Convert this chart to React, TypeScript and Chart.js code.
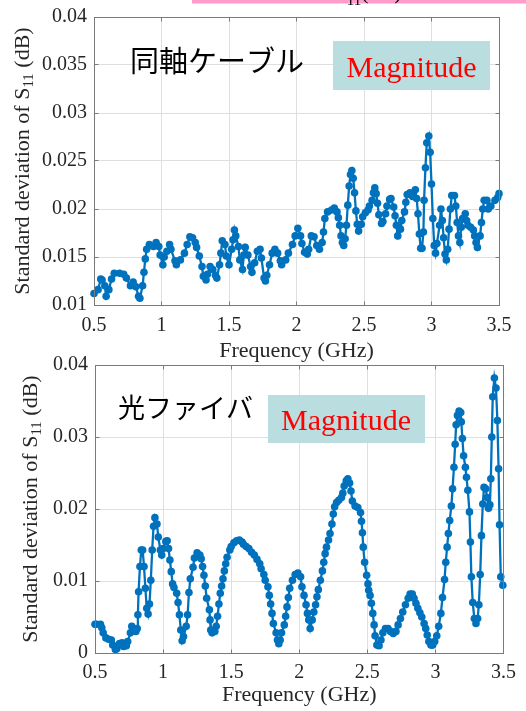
import React, { useEffect, useRef } from "react";
import { Chart, registerables } from "chart.js";

Chart.register(...registerables);

// ---------- data ----------
const xTickValues = [0.5, 1, 1.5, 2, 2.5, 3, 3.5];
const xTickLabels = ["0.5", "1", "1.5", "2", "2.5", "3", "3.5"];

const coaxYTickValues = [0.01, 0.015, 0.02, 0.025, 0.03, 0.035, 0.04];
const coaxYTickLabels = ["0.01", "0.015", "0.02", "0.025", "0.03", "0.035", "0.04"];

const fiberYTickValues = [0, 0.01, 0.02, 0.03, 0.04];
const fiberYTickLabels = ["0", "0.01", "0.02", "0.03", "0.04"];

const coaxFreq = [
  0.5, 0.53, 0.55, 0.56, 0.58, 0.59, 0.61, 0.63, 0.65, 0.69, 0.72, 0.74, 0.77, 0.79, 0.81, 0.83, 0.84, 0.86, 0.87, 0.88,
  0.89, 0.91, 0.94, 0.96, 0.98, 0.99, 1.01, 1.02, 1.04, 1.06, 1.07, 1.1, 1.11, 1.14, 1.17, 1.19, 1.21, 1.23, 1.25, 1.26,
  1.28, 1.3, 1.31, 1.33, 1.34, 1.36, 1.38, 1.4, 1.41, 1.43, 1.44, 1.45, 1.47, 1.48, 1.5, 1.52, 1.53, 1.54, 1.55, 1.57,
  1.58, 1.6, 1.61, 1.62, 1.64, 1.66, 1.67, 1.69, 1.71, 1.73, 1.74, 1.76, 1.77, 1.78, 1.8, 1.82, 1.84, 1.86, 1.88, 1.89,
  1.92, 1.94, 1.97, 1.99, 2.01, 2.03, 2.04, 2.06, 2.08, 2.09, 2.11, 2.13, 2.15, 2.17, 2.19, 2.2, 2.21, 2.23, 2.26, 2.28,
  2.3, 2.31, 2.32, 2.33, 2.34, 2.35, 2.36, 2.37, 2.38, 2.39, 2.4, 2.41, 2.42, 2.43, 2.44, 2.45, 2.46, 2.48, 2.49, 2.51,
  2.53, 2.54, 2.56, 2.57, 2.58, 2.59, 2.6, 2.61, 2.63, 2.64, 2.66, 2.67, 2.69, 2.7, 2.72, 2.73, 2.74, 2.75, 2.77, 2.78,
  2.8, 2.81, 2.82, 2.84, 2.86, 2.88, 2.89, 2.9, 2.91, 2.92, 2.93, 2.94, 2.945, 2.955, 2.965, 2.98, 2.99, 3.0, 3.01, 3.02,
  3.03, 3.04, 3.06, 3.07, 3.08, 3.09, 3.1, 3.11, 3.12, 3.13, 3.14, 3.15, 3.17, 3.18, 3.19, 3.2, 3.21, 3.22, 3.23, 3.25,
  3.26, 3.27, 3.29, 3.31, 3.32, 3.33, 3.34, 3.36, 3.37, 3.38, 3.39, 3.41, 3.42, 3.44, 3.47, 3.49, 3.5,
];
const coaxStd = [
  0.0112, 0.0116, 0.0127, 0.0126, 0.012, 0.0109, 0.0116, 0.0127, 0.0133, 0.0133, 0.0132, 0.0128, 0.012, 0.0124, 0.0119, 0.0109, 0.0107, 0.012, 0.0134, 0.0148,
  0.0158, 0.0163, 0.0161, 0.0165, 0.0161, 0.0152, 0.0142, 0.015, 0.0156, 0.0163, 0.0158, 0.0146, 0.0142, 0.0147, 0.0154, 0.0163, 0.0171, 0.017, 0.0165, 0.016,
  0.0151, 0.014, 0.013, 0.0126, 0.0132, 0.014, 0.0137, 0.0131, 0.0128, 0.0142, 0.0154, 0.0167, 0.0163, 0.0151, 0.0142, 0.0158, 0.0168, 0.0178, 0.0172, 0.0161,
  0.0147, 0.0137, 0.0152, 0.016, 0.0152, 0.014, 0.0134, 0.0144, 0.0156, 0.0158, 0.0149, 0.0128, 0.0125, 0.0131, 0.0142, 0.0154, 0.0158, 0.0154, 0.0146, 0.0142,
  0.0147, 0.0154, 0.0163, 0.0172, 0.018, 0.0172, 0.0164, 0.0155, 0.0153, 0.0158, 0.0172, 0.0171, 0.0162, 0.0158, 0.0165, 0.0176, 0.019, 0.0197, 0.0199, 0.0201,
  0.0197, 0.0191, 0.0183, 0.0172, 0.0165, 0.0162, 0.0169, 0.0183, 0.0204, 0.0224, 0.0236, 0.024, 0.0232, 0.0217, 0.0198, 0.0184, 0.0177, 0.0184, 0.0192, 0.0196,
  0.0199, 0.0203, 0.0209, 0.0217, 0.0222, 0.0216, 0.0206, 0.0194, 0.0185, 0.0187, 0.0195, 0.0203, 0.021, 0.0211, 0.0202, 0.0193, 0.0183, 0.0172, 0.0179, 0.0188,
  0.0197, 0.0207, 0.0215, 0.0217, 0.0213, 0.022, 0.0211, 0.0195, 0.0174, 0.0159, 0.0159, 0.0176, 0.0209, 0.0243, 0.0269, 0.0276, 0.0259, 0.0226, 0.019, 0.0162,
  0.0154, 0.0164, 0.0183, 0.02, 0.0188, 0.017, 0.0153, 0.0147, 0.0158, 0.0179, 0.02, 0.0214, 0.0214, 0.0203, 0.0186, 0.0172, 0.0165, 0.0181, 0.019, 0.0195,
  0.0188, 0.0183, 0.0181, 0.0178, 0.0172, 0.0165, 0.016, 0.0172, 0.0186, 0.02, 0.0209, 0.0209, 0.02, 0.0203, 0.0209, 0.0212, 0.0216,
];

const fiberFreq = [
  0.5, 0.51, 0.54, 0.55, 0.56, 0.58, 0.6, 0.62, 0.63, 0.65, 0.66, 0.68, 0.7, 0.71, 0.73, 0.74, 0.76, 0.77, 0.78, 0.8,
  0.81, 0.815, 0.82, 0.83, 0.84, 0.85, 0.86, 0.87, 0.88, 0.89, 0.9, 0.91, 0.92, 0.93, 0.94, 0.955, 0.965, 0.98, 0.99, 1.0,
  1.02, 1.03, 1.04, 1.05, 1.06, 1.07, 1.08, 1.1, 1.11, 1.12, 1.13, 1.14, 1.15, 1.17, 1.18, 1.19, 1.2, 1.22, 1.23, 1.25,
  1.27, 1.28, 1.29, 1.3, 1.31, 1.32, 1.34, 1.345, 1.35, 1.36, 1.38, 1.39, 1.4, 1.41, 1.42, 1.43, 1.44, 1.45, 1.46, 1.47,
  1.49, 1.5, 1.52, 1.54, 1.56, 1.58, 1.59, 1.61, 1.63, 1.65, 1.67, 1.69, 1.71, 1.72, 1.74, 1.75, 1.77, 1.78, 1.79, 1.8,
  1.81, 1.83, 1.84, 1.85, 1.86, 1.87, 1.89, 1.9, 1.91, 1.92, 1.93, 1.95, 1.97, 1.99, 2.01, 2.02, 2.035, 2.05, 2.06, 2.07,
  2.08, 2.095, 2.107, 2.12, 2.13, 2.14, 2.155, 2.17, 2.18, 2.19, 2.2, 2.215, 2.226, 2.24, 2.25, 2.26, 2.274, 2.29, 2.31, 2.32,
  2.33, 2.345, 2.357, 2.37, 2.38, 2.39, 2.41, 2.43, 2.45, 2.457, 2.464, 2.47, 2.48, 2.495, 2.505, 2.51, 2.52, 2.53, 2.54, 2.55,
  2.557, 2.57, 2.586, 2.6, 2.614, 2.633, 2.652, 2.67, 2.69, 2.71, 2.726, 2.743, 2.76, 2.78, 2.8, 2.814, 2.83, 2.843, 2.857, 2.871,
  2.886, 2.9, 2.917, 2.929, 2.94, 2.952, 2.967, 2.98, 2.995, 3.01, 3.024, 3.04, 3.052, 3.067, 3.076, 3.086, 3.095, 3.105, 3.117, 3.126,
  3.136, 3.145, 3.152, 3.162, 3.174, 3.186, 3.19, 3.198, 3.207, 3.22, 3.228, 3.238, 3.25, 3.257, 3.264, 3.274, 3.286, 3.298, 3.31, 3.319,
  3.329, 3.338, 3.348, 3.357, 3.369, 3.38, 3.39, 3.4, 3.407, 3.414, 3.421, 3.433, 3.445, 3.455, 3.464, 3.471, 3.48, 3.495,
];
const fiberStd = [
  0.004, 0.004, 0.004, 0.0035, 0.0028, 0.0021, 0.0019, 0.0018, 0.0011, 0.0005, 0.0006, 0.0013, 0.0014, 0.0009, 0.001, 0.0016, 0.0028, 0.0037, 0.0034, 0.003,
  0.0034, 0.0053, 0.0085, 0.012, 0.0143, 0.0143, 0.012, 0.009, 0.0062, 0.0054, 0.0068, 0.0101, 0.0143, 0.0176, 0.0188, 0.0179, 0.0161, 0.0143, 0.0136, 0.0145,
  0.0155, 0.0156, 0.0145, 0.0129, 0.0113, 0.0096, 0.0091, 0.0083, 0.007, 0.0053, 0.0032, 0.0017, 0.0023, 0.0037, 0.0053, 0.0084, 0.0103, 0.0119, 0.0132, 0.0139,
  0.0136, 0.0131, 0.012, 0.0108, 0.0093, 0.0076, 0.006, 0.0046, 0.0032, 0.0028, 0.003, 0.0037, 0.0051, 0.0068, 0.0083, 0.0093, 0.0103, 0.0114, 0.0124, 0.0133,
  0.0143, 0.0148, 0.0153, 0.0156, 0.0157, 0.0154, 0.0151, 0.0148, 0.0145, 0.014, 0.0136, 0.013, 0.0124, 0.0117, 0.0109, 0.0101, 0.0092, 0.008, 0.0068, 0.0055,
  0.0041, 0.0028, 0.0018, 0.0013, 0.0018, 0.0028, 0.0039, 0.0051, 0.0064, 0.0077, 0.009, 0.0101, 0.0109, 0.0111, 0.0106, 0.0092, 0.008, 0.0067, 0.0055, 0.0046,
  0.0034, 0.0046, 0.0057, 0.0067, 0.0078, 0.0088, 0.0101, 0.0114, 0.0126, 0.0138, 0.0147, 0.0157, 0.0166, 0.0179, 0.0193, 0.0203, 0.0209, 0.0212, 0.0216, 0.0222,
  0.0232, 0.0239, 0.0242, 0.0236, 0.0225, 0.0211, 0.0204, 0.0202, 0.0195, 0.0183, 0.0167, 0.0147, 0.0126, 0.0108, 0.0096, 0.0087, 0.008, 0.0069, 0.0055, 0.0039,
  0.0024, 0.0011, 0.001, 0.0018, 0.0028, 0.0034, 0.0034, 0.003, 0.0027, 0.003, 0.0039, 0.0048, 0.0057, 0.0067, 0.0076, 0.0082, 0.0082, 0.0076, 0.0069, 0.0062,
  0.0056, 0.005, 0.0041, 0.0034, 0.0025, 0.0016, 0.0011, 0.0011, 0.0016, 0.0024, 0.0037, 0.0055, 0.0077, 0.0102, 0.0126, 0.0147, 0.0166, 0.0184, 0.0204, 0.0228,
  0.0258, 0.029, 0.0317, 0.033, 0.0336, 0.0334, 0.0321, 0.0298, 0.0274, 0.0258, 0.0244, 0.0226, 0.0196, 0.0154, 0.0106, 0.007, 0.0048, 0.0041, 0.0048, 0.0067,
  0.0109, 0.0163, 0.0207, 0.023, 0.0228, 0.0216, 0.0201, 0.0206, 0.0242, 0.03, 0.0356, 0.0382, 0.0368, 0.0323, 0.0256, 0.0178, 0.0106, 0.0094,
];

const xAxisTitle = "Frequency (GHz)";
const yTitleMain = "Standard deviation of S";
const yTitleSub = "11";
const yTitleTail = " (dB)";
const coaxLabel = "同軸ケーブル";
const fiberLabel = "光ファイバ";
const boxLabel = "Magnitude";
const headerMain = "S";
const headerSub = "11";
const headerTail = "(dB)";

// ---------- styles ----------
const SERIF = "'Liberation Serif', 'Times New Roman', serif";
const CJK = "'Noto Sans CJK JP', 'Noto Sans', sans-serif";
const TEXT = "#262626";
const LINE = "#0072BD";
const AXIS = "#7a7a7a";
const GRID = "#dfdfdf";
const BOX_FILL = "#badde0";

type Panel = {
  key: string;
  top: number;
  height: number;
  freq: number[];
  values: number[];
  yMin: number;
  yMax: number;
  yTicks: number[];
  yTickLabels: string[];
  padTop: number;
  padRight: number;
  yAxisWidth: number;
  xAxisHeight: number;
  xTickPad: number;
  yTitleX: number;
  xTitleY: number;
  cjk: string;
  cjkX: number;
  cjkY: number;
  cjkSize: number;
  box: { x: number; y: number; w: number; h: number };
  boxTextX: number;
  boxTextY: number;
  header: boolean;
};

const panels: Panel[] = [
  {
    key: "coax",
    top: 0,
    height: 372,
    freq: coaxFreq,
    values: coaxStd,
    yMin: 0.01,
    yMax: 0.04,
    yTicks: coaxYTickValues,
    yTickLabels: coaxYTickLabels,
    padTop: 16,
    padRight: 27,
    yAxisWidth: 94,
    xAxisHeight: 67,
    xTickPad: 11,
    yTitleX: 28.5,
    xTitleY: 357,
    cjk: coaxLabel,
    cjkX: 130,
    cjkY: 61,
    cjkSize: 29,
    box: { x: 333, y: 41, w: 157, h: 49 },
    boxTextX: 411.5,
    boxTextY: 76.5,
    header: true,
  },
  {
    key: "fiber",
    top: 340,
    height: 371,
    freq: fiberFreq,
    values: fiberStd,
    yMin: 0,
    yMax: 0.04,
    yTicks: fiberYTickValues,
    yTickLabels: fiberYTickLabels,
    padTop: 25,
    padRight: 16,
    yAxisWidth: 95,
    xAxisHeight: 58,
    xTickPad: 10,
    yTitleX: 37,
    xTitleY: 361,
    cjk: fiberLabel,
    cjkX: 118,
    cjkY: 68,
    cjkSize: 27,
    box: { x: 268, y: 55, w: 157, h: 48 },
    boxTextX: 346,
    boxTextY: 90,
    header: false,
  },
];

const align = (p: number) => Math.round(p - 0.5) + 0.5;

function makeDecor(p: Panel) {
  return {
    id: "decor_" + p.key,
    afterDraw(chart: any) {
      const ctx: CanvasRenderingContext2D = chart.ctx;
      const a = chart.chartArea;
      const xs = chart.scales.x;
      const ys = chart.scales.y;
      ctx.save();

      // axes box and inward ticks
      const L = align(a.left);
      const R = align(a.right);
      const T = align(a.top);
      const B = align(a.bottom);
      ctx.strokeStyle = AXIS;
      ctx.lineWidth = 1;
      ctx.strokeRect(L, T, R - L, B - T);
      ctx.beginPath();
      const tl = 4;
      xs.ticks.forEach((t: any) => {
        const px = align(xs.getPixelForValue(t.value));
        ctx.moveTo(px, B);
        ctx.lineTo(px, B - tl);
        ctx.moveTo(px, T);
        ctx.lineTo(px, T + tl);
      });
      ys.ticks.forEach((t: any) => {
        const py = align(ys.getPixelForValue(t.value));
        ctx.moveTo(L, py);
        ctx.lineTo(L + tl, py);
        ctx.moveTo(R, py);
        ctx.lineTo(R - tl, py);
      });
      ctx.stroke();

      // x axis title
      ctx.fillStyle = TEXT;
      ctx.font = `22px ${SERIF}`;
      ctx.textAlign = "center";
      ctx.textBaseline = "alphabetic";
      ctx.fillText(xAxisTitle, (a.left + a.right) / 2, p.xTitleY);

      // y axis title with subscript
      ctx.save();
      ctx.translate(p.yTitleX, (a.top + a.bottom) / 2);
      ctx.rotate(-Math.PI / 2);
      ctx.textAlign = "left";
      ctx.font = `22px ${SERIF}`;
      const w1 = ctx.measureText(yTitleMain).width;
      const w3 = ctx.measureText(yTitleTail).width;
      ctx.font = `15px ${SERIF}`;
      const w2 = ctx.measureText(yTitleSub).width;
      let x0 = -(w1 + w2 + w3) / 2;
      ctx.font = `22px ${SERIF}`;
      ctx.fillText(yTitleMain, x0, 0);
      x0 += w1;
      ctx.font = `15px ${SERIF}`;
      ctx.fillText(yTitleSub, x0, 4);
      x0 += w2;
      ctx.font = `22px ${SERIF}`;
      ctx.fillText(yTitleTail, x0, 0);
      ctx.restore();

      // annotation: japanese label
      ctx.fillStyle = "#000000";
      ctx.font = `${p.cjkSize}px ${CJK}`;
      ctx.textAlign = "left";
      ctx.textBaseline = "middle";
      ctx.fillText(p.cjk, p.cjkX, p.cjkY);

      // annotation: Magnitude box
      ctx.fillStyle = BOX_FILL;
      ctx.fillRect(p.box.x, p.box.y, p.box.w, p.box.h);
      ctx.fillStyle = "#ff0000";
      ctx.font = `30px ${SERIF}`;
      ctx.textAlign = "center";
      ctx.textBaseline = "alphabetic";
      ctx.fillText(boxLabel, p.boxTextX, p.boxTextY);

      // clipped header strip at very top
      if (p.header) {
        ctx.fillStyle = "#ff9ccc";
        ctx.fillRect(192, 0, 334, 3.5);
        ctx.fillStyle = "#000000";
        ctx.textAlign = "left";
        ctx.font = `22px ${SERIF}`;
        let hx = 334.5;
        ctx.fillText(headerMain, hx, -1);
        hx += ctx.measureText(headerMain).width;
        ctx.font = `15px ${SERIF}`;
        ctx.fillText(headerSub, hx, 4.5);
        hx += ctx.measureText(headerSub).width;
        ctx.font = `22px ${SERIF}`;
        ctx.fillText(headerTail, hx, -1);
      }
      ctx.restore();
    },
  };
}

function PanelChart({ p }: { p: Panel }) {
  const ref = useRef<HTMLCanvasElement | null>(null);
  useEffect(() => {
    if (!ref.current) return;
    const data = p.freq.map((f, i) => ({ x: f, y: p.values[i] }));
    const chart = new Chart(ref.current, {
      type: "line",
      data: {
        datasets: [
          {
            data,
            borderColor: LINE,
            backgroundColor: LINE,
            borderWidth: 2.3,
            pointRadius: 3.8,
            pointBorderWidth: 0,
            pointBackgroundColor: LINE,
            tension: 0,
            fill: false,
            clip: false as any,
          },
        ],
      },
      options: {
        responsive: false,
        animation: false,
        events: [],
        layout: { padding: { top: p.padTop, right: p.padRight, left: 0, bottom: 0 } },
        plugins: { legend: { display: false }, tooltip: { enabled: false }, title: { display: false } },
        scales: {
          x: {
            type: "linear",
            min: 0.5,
            max: 3.5,
            afterBuildTicks: (s: any) => {
              s.ticks = xTickValues.map((v) => ({ value: v }));
            },
            afterFit: (s: any) => {
              s.height = p.xAxisHeight;
            },
            ticks: {
              autoSkip: false,
              maxRotation: 0,
              minRotation: 0,
              padding: p.xTickPad,
              color: TEXT,
              font: { family: SERIF, size: 20, lineHeight: 1 },
              callback: (v: any) => xTickLabels[xTickValues.indexOf(Number(v))] ?? "",
            },
            grid: { color: GRID, lineWidth: 1, drawTicks: false },
            border: { display: false },
          },
          y: {
            type: "linear",
            min: p.yMin,
            max: p.yMax,
            afterBuildTicks: (s: any) => {
              s.ticks = p.yTicks.map((v) => ({ value: v }));
            },
            afterFit: (s: any) => {
              s.width = p.yAxisWidth;
            },
            ticks: {
              autoSkip: false,
              padding: 7,
              color: TEXT,
              font: { family: SERIF, size: 20, lineHeight: 1 },
              callback: (v: any) => {
                const i = p.yTicks.findIndex((t) => Math.abs(t - Number(v)) < 1e-9);
                return i >= 0 ? p.yTickLabels[i] : "";
              },
            },
            grid: { color: GRID, lineWidth: 1, drawTicks: false },
            border: { display: false },
          },
        },
      },
      plugins: [makeDecor(p)],
    } as any);
    return () => chart.destroy();
  }, [p]);
  return (
    <canvas
      ref={ref}
      width={526}
      height={p.height}
      style={{ position: "absolute", left: 0, top: p.top, width: 526, height: p.height }}
    />
  );
}

export default function App() {
  return (
    <div style={{ position: "absolute", left: 0, top: 0, width: 526, height: 711, background: "#ffffff", overflow: "hidden" }}>
      {panels.map((p) => (
        <PanelChart key={p.key} p={p} />
      ))}
    </div>
  );
}
